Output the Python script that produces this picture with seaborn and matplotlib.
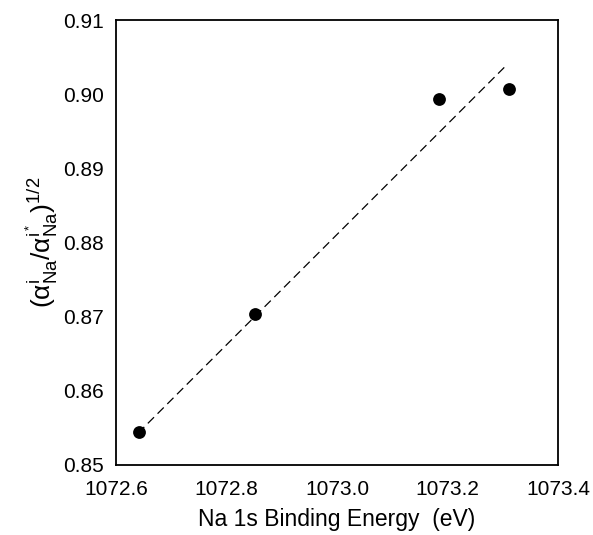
import matplotlib
matplotlib.use("Agg")
import matplotlib.pyplot as plt
import seaborn as sns
import pandas as pd
from matplotlib.ticker import MultipleLocator, FormatStrFormatter

# Data
binding_energy = [1072.642, 1072.852, 1073.185, 1073.311]
ratio = [0.8544, 0.8703, 0.8994, 0.9007]
fit_x = [1072.640, 1073.308]
fit_y = [0.8543, 0.9040]

x_ticks = [1072.6, 1072.8, 1073.0, 1073.2, 1073.4]
y_ticks = [0.85, 0.86, 0.87, 0.88, 0.89, 0.90, 0.91]

sns.set_theme(style="white")
plt.rcParams["font.family"] = ["Liberation Sans", "DejaVu Sans"]
plt.rcParams["mathtext.fontset"] = "custom"
plt.rcParams["mathtext.rm"] = "Liberation Sans"
plt.rcParams["mathtext.it"] = "Liberation Sans:italic"
plt.rcParams["mathtext.bf"] = "Liberation Sans:bold"

pts = pd.DataFrame({"x": binding_energy, "y": ratio})
fit = pd.DataFrame({"x": fit_x, "y": fit_y})

fig = plt.figure(figsize=(5.93, 5.35), dpi=100)
ax = fig.add_axes([116 / 593, 70 / 535, 442 / 593, 445 / 535])

sns.lineplot(data=fit, x="x", y="y", ax=ax, color="black", lw=0.9,
             linestyle=(0, (7, 4)), estimator=None, sort=False)
sns.scatterplot(data=pts, x="x", y="y", ax=ax, color="black", s=85,
                edgecolor="black", linewidth=0, zorder=3)

ax.set_xlim(x_ticks[0], x_ticks[-1])
ax.set_ylim(y_ticks[0], y_ticks[-1])
ax.set_xticks(x_ticks)
ax.set_yticks(y_ticks)
ax.xaxis.set_major_formatter(FormatStrFormatter("%.1f"))
ax.yaxis.set_major_formatter(FormatStrFormatter("%.2f"))
ax.xaxis.set_minor_locator(MultipleLocator(0.1))
ax.yaxis.set_minor_locator(MultipleLocator(0.002))

ax.tick_params(which="both", direction="in", top=False, right=False,
               color="black", labelsize=15, labelcolor="black")
ax.tick_params(which="major", length=8, width=1.2, pad=9)
ax.tick_params(axis="x", which="major", pad=11)
ax.tick_params(which="minor", length=5, width=1.0)

for s in ax.spines.values():
    s.set_color("black")
    s.set_linewidth(1.3)

ax.set_xlabel("Na 1s Binding Energy  (eV)", fontsize=16.5, color="black", labelpad=6)
ax.set_ylabel(r"$(\mathrm{\alpha}^{\mathrm{i}}_{\mathrm{Na}}/\mathrm{\alpha}^{\mathrm{i}^*}_{\mathrm{Na}})^{1/2}$",
              fontsize=19, color="black", labelpad=2)

fig.savefig("out.png", dpi=100, facecolor="white")
